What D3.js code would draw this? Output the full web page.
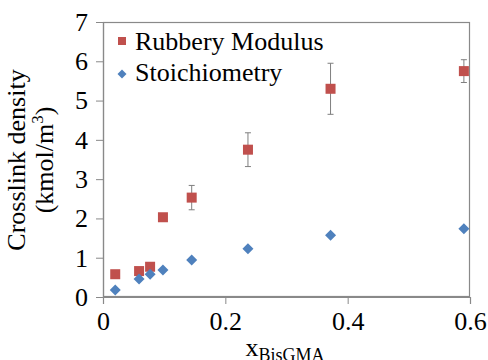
<!DOCTYPE html>
<html>
<head>
<meta charset="utf-8">
<script src="https://cdn.jsdelivr.net/npm/d3@7"></script>
<style>
  html, body { margin: 0; padding: 0; background: #fff; }
  svg { display: block; }
</style>
</head>
<body>
<svg id="chart" width="488" height="360"></svg>
<script>
// BisGMA mole fraction for each formulation
const xBisGMA = [0.02, 0.059, 0.077, 0.098, 0.145, 0.237, 0.372, 0.590];
// Crosslink density from rubbery modulus (kmol/m^3) with standard deviation
const rubberyModulus = [0.58, 0.66, 0.77, 2.03, 2.53, 3.75, 5.30, 5.75];
const rubberyError   = [0, 0, 0, 0, 0.31, 0.43, 0.65, 0.29];
// Crosslink density from stoichiometry (kmol/m^3)
const stoichiometry  = [0.18, 0.46, 0.58, 0.69, 0.94, 1.23, 1.57, 1.74];
// Axis ticks
const xTicks = [0, 0.2, 0.4, 0.6];
const yTicks = [0, 1, 2, 3, 4, 5, 6, 7];
const seriesNames = ["Rubbery Modulus", "Stoichiometry"];

const FONT = '"Liberation Serif"';
const svg = d3.select("#chart");
const W = 488, H = 360;
const margin = { top: 22, right: 18, bottom: 63, left: 103 };
const red = "#C0504D", blue = "#4F81BD", axisGrey = "#898989";

const x = d3.scaleLinear().domain([0, 0.6]).range([margin.left, W - margin.right]);
const y = d3.scaleLinear().domain([0, 7]).range([H - margin.bottom, margin.top]);

// Plot frame
svg.append("rect")
  .attr("x", margin.left + 0.5).attr("y", margin.top + 0.5)
  .attr("width", W - margin.left - margin.right - 1)
  .attr("height", H - margin.top - margin.bottom - 1)
  .attr("fill", "none").attr("stroke", axisGrey).attr("stroke-width", 1.2);

// Axes
const yAxis = svg.append("g")
  .attr("transform", `translate(${margin.left},0)`)
  .call(d3.axisLeft(y).tickValues(yTicks).tickFormat(d3.format("d")).tickSize(7).tickPadding(8));
const xAxis = svg.append("g")
  .attr("transform", `translate(0,${H - margin.bottom})`)
  .call(d3.axisBottom(x).tickValues(xTicks).tickFormat(d => d === 0 ? "0" : d3.format(".1f")(d)).tickSize(7).tickPadding(8));

[xAxis, yAxis].forEach(g => {
  g.select(".domain").attr("stroke", axisGrey).attr("stroke-width", 1.2);
  g.selectAll(".tick line").attr("stroke", axisGrey);
  g.selectAll(".tick text")
    .attr("fill", "#000")
    .attr("font-family", FONT)
    .attr("font-size", 26);
});

// Error bars for the rubbery modulus series
const eb = svg.append("g").attr("stroke", "#7f7f7f").attr("stroke-width", 1);
xBisGMA.forEach((xv, i) => {
  const e = rubberyError[i];
  if (!e) return;
  const cx = x(xv), y1 = y(rubberyModulus[i] + e), y2 = y(rubberyModulus[i] - e);
  eb.append("line").attr("x1", cx).attr("x2", cx).attr("y1", y1).attr("y2", y2);
  eb.append("line").attr("x1", cx - 3).attr("x2", cx + 3).attr("y1", y1).attr("y2", y1);
  eb.append("line").attr("x1", cx - 3).attr("x2", cx + 3).attr("y1", y2).attr("y2", y2);
});

// Rubbery modulus markers (squares)
const sq = 10;
svg.append("g").selectAll("rect")
  .data(xBisGMA.map((xv, i) => [xv, rubberyModulus[i]]))
  .join("rect")
  .attr("x", d => x(d[0]) - sq / 2).attr("y", d => y(d[1]) - sq / 2)
  .attr("width", sq).attr("height", sq)
  .attr("fill", red);

// Stoichiometry markers (diamonds)
const dm = 5.5;
const diamond = (cx, cy, r) => `M${cx},${cy - r}L${cx + r},${cy}L${cx},${cy + r}L${cx - r},${cy}Z`;
svg.append("g").selectAll("path")
  .data(xBisGMA.map((xv, i) => [xv, stoichiometry[i]]))
  .join("path")
  .attr("d", d => diamond(x(d[0]), y(d[1]), dm))
  .attr("fill", blue);

// Legend
const legend = svg.append("g");
legend.append("rect").attr("x", 118).attr("y", 37).attr("width", 8).attr("height", 8).attr("fill", red);
legend.append("path").attr("d", diamond(122, 74, 4.5)).attr("fill", blue);
legend.append("text").attr("x", 135).attr("y", 50)
  .attr("font-family", FONT).attr("font-size", 26).text(seriesNames[0]);
legend.append("text").attr("x", 135).attr("y", 81)
  .attr("font-family", FONT).attr("font-size", 26).text(seriesNames[1]);

// Y axis title (two lines)
const yt = svg.append("text")
  .attr("font-family", FONT)
  .attr("transform", `translate(0,160) rotate(-90)`)
  .attr("text-anchor", "middle").attr("font-size", 26);
yt.append("tspan").attr("x", 0).attr("y", 25).text("Crosslink density");
yt.append("tspan").attr("x", 0).attr("y", 53).text("(kmol/m");
yt.append("tspan").attr("dy", -10).attr("font-size", 17).text("3");
yt.append("tspan").attr("dy", 10).text(")");

// X axis title with subscript
const xt = svg.append("text").attr("font-family", FONT)
  .attr("x", 285).attr("y", 356).attr("text-anchor", "middle").attr("font-size", 26);
xt.append("tspan").text("x");
xt.append("tspan").attr("dy", 5).attr("font-size", 18).text("BisGMA");
</script>
</body>
</html>
